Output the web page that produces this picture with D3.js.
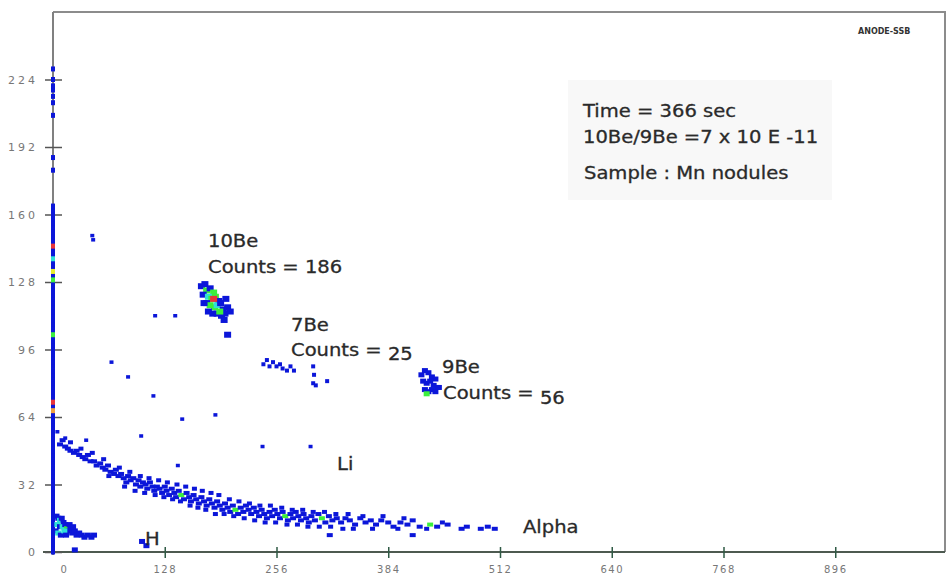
<!DOCTYPE html>
<html>
<head>
<meta charset="utf-8">
<script src="https://cdn.jsdelivr.net/npm/d3@7"></script>
<style>
  body { margin: 0; background: #fff; }
  text { font-family: "DejaVu Sans", sans-serif; }
</style>
</head>
<body>
<script>
// channel axes (x: E residual, y: dE)
const xTicks = [0, 128, 256, 384, 512, 640, 768, 896];
const yTicks = [0, 32, 64, 96, 128, 160, 192, 224];

// colour code of each event cell
const colours = { b: "#0b16d9", g: "#3cef3c", c: "#2fe0d8", r: "#e8343a", y: "#e8ef2a", o: "#f0a040" };

// events piled on the y axis (x = 0)
const columnY = [0,2,4,6,8,10,12,14,16,18,20,22,24,26,28,30,32,34,36,38,40,42,44,46,48,50,52,54,56,58,60,
  62,64,66,68,70,72,74,76,78,80,82,84,86,88,90,92,94,96,98,100,102,104,106,108,110,112,114,116,118,120,
  122,124,126,128,130,132,134,136,138,140,142,144,146,148,150,152,154,156,158,160,162,164,181,187,207,
  213,216,219,221,224,229];
const columnSpots = [[0,145,"r"],[0,139,"c"],[0,133,"y"],[0,129,"g"],[0,103,"g"],[0,71,"r"],[0,67,"o"],[0,51,"b"]];

// 10Be group
const be10 = [[170,126,"b"],[174,127,"b"],[176,124,"g"],[180,125,"b"],[184,123,"g"],[172,122,"b"],[178,121,"c"],
  [182,120,"g"],[186,121,"g"],[190,119,"b"],[176,118,"b"],[180,117,"g"],[185,116,"g"],[188,117,"c"],[192,118,"b"],
  [195,115,"b"],[183,113,"b"],[188,113,"b"],[193,112,"b"],[197,113,"b"],[200,116,"b"],[198,120,"b"],[203,114,"b"],
  [178,114,"b"],[173,118,"b"],[184,120,"r"],[191,114,"g"],[196,110,"b"],[200,103,"b"]];

// 7Be group
const be7 = [[241,89,"b"],[245,91,"b"],[248,88,"b"],[252,90,"b"],[256,88,"b"],[260,89,"b"],[263,87,"b"],
  [268,86,"b"],[272,88,"b"],[276,86,"b"],[298,88,"b"],[299,84,"b"],[298,80,"b"],[301,79,"b"],[314,81,"b"]];

// 9Be group
const be9 = [[422,84,"b"],[426,86,"b"],[430,85,"b"],[434,83,"b"],[438,82,"b"],[424,81,"b"],[428,80,"b"],
  [432,81,"b"],[436,79,"b"],[440,78,"b"],[426,77,"b"],[430,76,"b"],[434,77,"b"],[438,76,"b"],[442,78,"b"],[428,75,"g"]];

// alpha band
const alpha = [[8,51,"b"],[11,53,"b"],[14,50,"b"],[17,49,"b"],[20,48,"b"],[24,47,"b"],[27,48,"b"],[30,46,"b"],
  [34,45,"b"],[37,44,"b"],[40,46,"b"],[43,43,"b"],[47,43,"b"],[50,41,"b"],[54,42,"b"],[57,40,"b"],[60,39,"b"],
  [63,41,"b"],[66,38,"b"],[70,37,"b"],[72,39,"b"],[75,36,"b"],[78,37,"b"],[81,35,"b"],[84,33,"b"],[86,36,"b"],
  [89,34,"b"],[92,35,"b"],[95,32,"b"],[98,34,"b"],[100,31,"b"],[103,33,"b"],[106,32,"b"],[108,30,"b"],
  [111,33,"b"],[114,31,"b"],[116,29,"b"],[119,31,"b"],[122,30,"b"],[125,28,"b"],[128,31,"b"],[130,29,"b"],
  [133,27,"b"],[136,30,"b"],[139,28,"b"],[141,26,"b"],[144,29,"b"],[147,27,"g"],[150,25,"b"],[153,28,"b"],
  [156,26,"b"],[158,24,"b"],[161,27,"b"],[164,25,"b"],[167,23,"b"],[170,26,"b"],[173,24,"b"],[176,22,"b"],
  [179,25,"b"],[182,23,"b"],[185,21,"b"],[188,24,"b"],[191,22,"b"],[194,20,"b"],[197,23,"b"],[200,21,"b"],
  [203,19,"b"],[206,22,"b"],[209,20,"g"],[212,18,"b"],[215,21,"b"],[218,19,"b"],[221,22,"b"],[224,20,"b"],
  [227,18,"b"],[230,21,"b"],[233,19,"b"],[236,17,"b"],[239,20,"b"],[242,18,"b"],[245,16,"b"],[248,19,"b"],
  [251,17,"b"],[254,20,"b"],[257,18,"b"],[260,16,"b"],[263,19,"b"],[266,17,"g"],[269,15,"b"],[272,18,"b"],
  [275,16,"b"],[278,19,"b"],[281,17,"b"],[284,15,"b"],[287,18,"b"],[290,16,"b"],[293,14,"b"],[296,17,"b"],
  [300,15,"b"],[304,18,"b"],[308,16,"g"],[312,14,"b"],[316,17,"b"],[320,15,"b"],[325,16,"b"],[330,14,"b"],
  [335,16,"b"],[340,15,"b"],[346,13,"b"],[352,16,"b"],[358,14,"b"],[364,15,"b"],[370,13,"b"],[376,15,"b"],
  [384,14,"b"],[390,12,"b"],[398,14,"b"],[406,13,"b"],[412,15,"b"],[420,12,"b"],[432,13,"g"],[440,12,"b"],
  [452,13,"b"],[468,11,"b"],[474,12,"b"],[490,11,"b"],[498,12,"b"],[506,11,"b"],[317,8,"b"],[412,8,"b"]];
const alphaSpread = [[20,52,"b"],[32,49,"b"],[45,47,"b"],[58,44,"b"],[64,36,"b"],[76,40,"b"],[82,31,"b"],
  [88,38,"b"],[94,29,"b"],[100,36,"b"],[105,28,"b"],[110,35,"b"],[117,27,"b"],[121,34,"b"],[127,26,"b"],
  [131,33,"b"],[137,25,"b"],[142,32,"b"],[146,24,"b"],[152,31,"b"],[157,22,"b"],[162,30,"b"],[166,21,"b"],
  [171,29,"b"],[175,20,"b"],[181,28,"b"],[186,18,"b"],[190,27,"b"],[196,18,"b"],[202,25,"b"],[207,17,"b"],
  [213,24,"b"],[219,16,"b"],[225,23,"b"],[231,15,"b"],[237,22,"b"],[243,14,"b"],[249,22,"b"],[255,14,"b"],
  [262,21,"b"],[268,13,"b"],[274,20,"b"],[280,13,"b"],[286,20,"b"],[292,12,"b"],[298,19,"b"],[305,12,"b"],
  [311,19,"b"],[318,12,"b"],[324,18,"b"],[332,11,"b"],[338,18,"b"],[344,11,"b"],[355,17,"b"],[366,11,"b"],
  [378,17,"b"],[395,11,"b"],[402,16,"b"],[428,11,"b"],[446,14,"b"]];

// light particles near the origin
const hGroup = [[4,17,"b"],[6,16,"b"],[8,15,"c"],[10,16,"b"],[12,14,"b"],[5,13,"c"],[8,12,"b"],[11,12,"c"],
  [14,13,"b"],[16,11,"g"],[18,10,"b"],[20,11,"b"],[22,9,"b"],[25,10,"b"],[27,8,"b"],[30,9,"b"],[33,8,"b"],
  [36,7,"b"],[40,8,"b"],[44,7,"b"],[47,8,"b"],[3,10,"b"],[6,9,"c"],[9,8,"b"],[13,10,"c"],[15,8,"b"],
  [19,13,"b"],[23,12,"b"],[25,1,"b"],[102,5,"b"],[107,3,"b"]];

// isolated events
const strays = [[45,150,"b"],[46,148,"b"],[117,112,"b"],[140,112,"b"],[67,90,"b"],[86,83,"b"],[115,74,"b"],
  [148,63,"b"],[186,65,"b"],[101,55,"b"],[143,41,"b"],[240,50,"b"],[295,50,"b"],[5,57,"b"],[14,54,"b"],[38,53,"b"]];

const W = 949, H = 575;
const svg = d3.select("body").append("svg").attr("width", W).attr("height", H);

const x = d3.scaleLinear().domain([0, 1024]).range([53, 947]);
const y = d3.scaleLinear().domain([0, 256]).range([552, 12]);

// frame
svg.append("path")
  .attr("d", `M${x(0)},${y(256)}H945V${y(0)}`)
  .attr("fill", "none").attr("stroke", "#8c8c8c").attr("stroke-width", 2);

// annotation box
svg.append("rect").attr("x", 568).attr("y", 80).attr("width", 264).attr("height", 120).attr("fill", "#f8f8f8");

// axes
let xAxis = svg.append("g").attr("transform", `translate(0,${y(0)})`)
  .call(d3.axisBottom(x).tickValues(xTicks).tickSize(0).tickPadding(0));
xAxis.select(".domain").attr("stroke", "#4d5a50").attr("stroke-width", 2).attr("d", `M${x(0) - 10},0H945`);
xAxis.selectAll(".tick line").attr("y1", -5).attr("y2", 6).attr("stroke", "#2f5a45").attr("stroke-width", 1.5)
  .filter(d => d === 0).remove();
xAxis.selectAll(".tick text").attr("y", 21).attr("dy", null)
  .attr("x", d => d === 0 ? 11 : 0)
  .attr("font-family", "DejaVu Sans Mono").attr("font-size", 10).attr("letter-spacing", 1.5).attr("fill", "#777");

let yAxis = svg.append("g").attr("transform", `translate(${x(0)},0)`)
  .call(d3.axisLeft(y).tickValues(yTicks).tickSize(0).tickPadding(18));
yAxis.select(".domain").attr("stroke", "#808080").attr("stroke-width", 2).attr("d", `M0,${y(0) + 3}V${y(256)}`);
yAxis.selectAll(".tick line").attr("x1", -8).attr("x2", 9).attr("stroke", "#555").attr("stroke-width", 1.5);
yAxis.selectAll(".tick text").attr("x", -15)
  .attr("font-family", "DejaVu Sans Mono").attr("font-size", 11).attr("letter-spacing", 3).attr("fill", "#777");

// events
function drawCells(data, w, h) {
  svg.append("g").selectAll("rect").data(data).enter().append("rect")
    .attr("x", d => x(d[0]) - w / 2)
    .attr("y", d => y(d[1]) - h / 2)
    .attr("width", w).attr("height", h)
    .attr("fill", d => colours[d[2]]);
}
drawCells(columnY.map(v => [0, v, "b"]), 4, 5);
drawCells(columnSpots, 4, 5);
drawCells(strays, 4, 3.5);
drawCells(hGroup, 6, 5);
drawCells(alphaSpread, 5, 4);
drawCells(alpha, 6, 4);
drawCells(be10, 7, 6);
drawCells(be7, 4, 4);
drawCells(be9, 6, 5);

// labels (the scan is stretched sideways, so the text is too)
function label(txt, px, py, num, numDy) {
  let t = svg.append("text")
    .attr("transform", `translate(${px},${py}) scale(1.15,1)`)
    .attr("font-size", 17).attr("fill", "#2a2a2a")
    .attr("stroke", "#2a2a2a").attr("stroke-width", 0.3)
    .text(txt);
  if (num) t.append("tspan").attr("dy", numDy).text(num);
}
label("Time = 366 sec", 583, 117);
label("10Be/9Be =7 x 10 E -11", 583, 143);
label("Sample : Mn nodules", 584, 179);
label("10Be", 208, 247);
label("Counts = 186", 208, 273);
label("7Be", 291, 331);
label("Counts =", 291, 356, " 25", 4);
label("9Be", 442, 373);
label("Counts =", 443, 399, " 56", 5);
label("Li", 337, 470);
label("H", 145, 545);
label("Alpha", 523, 533);
svg.append("text").attr("x", 858).attr("y", 34).attr("font-size", 8).attr("font-weight", "bold")
  .attr("fill", "#333").text("ANODE-SSB");
</script>
</body>
</html>
